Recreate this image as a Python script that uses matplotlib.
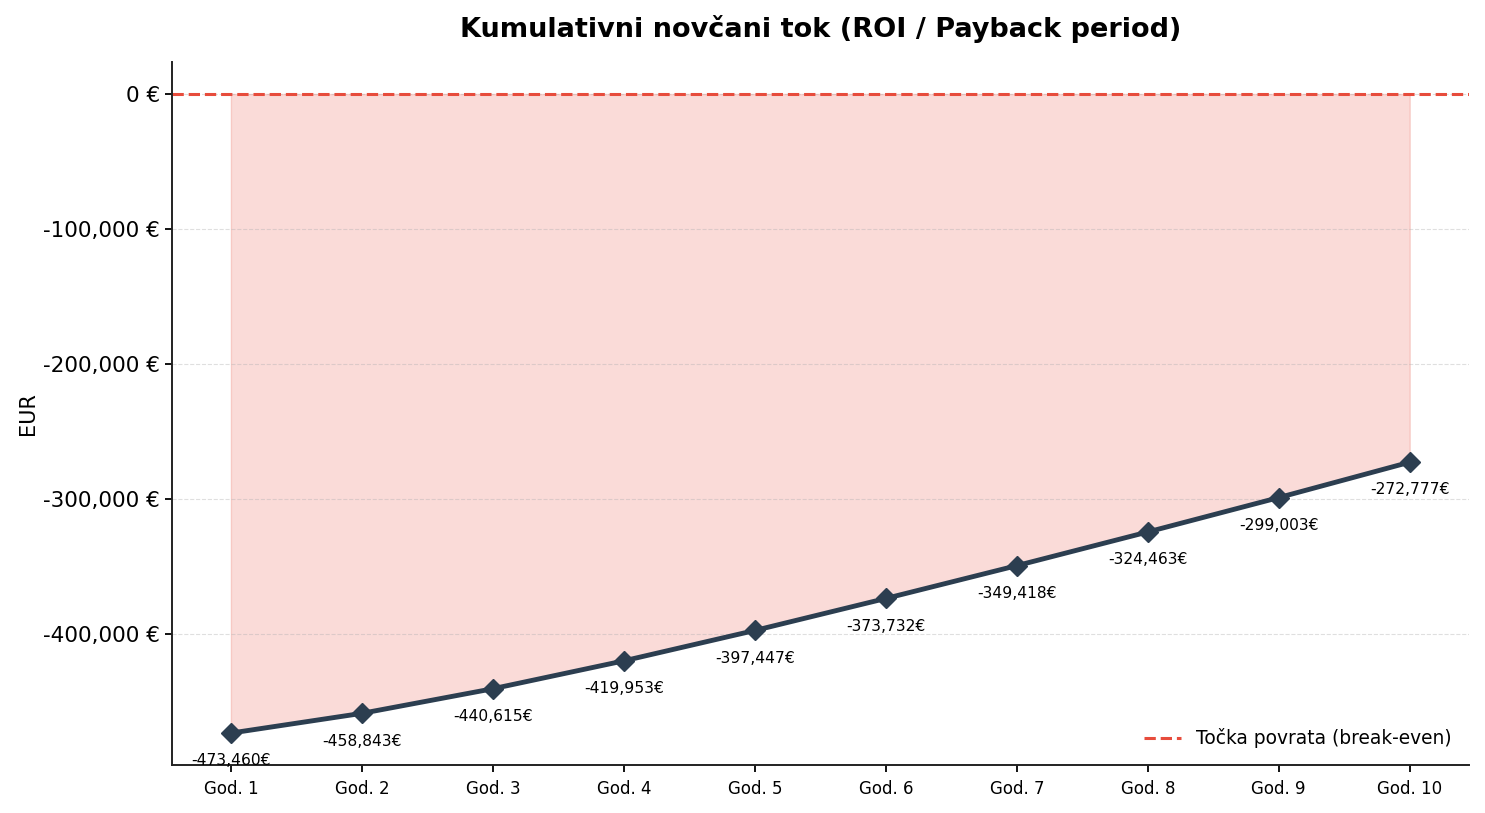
import matplotlib
matplotlib.use("Agg")
import matplotlib.pyplot as plt
from matplotlib.ticker import FuncFormatter

# cumulative cash flow per year (EUR)
years = ["God. 1", "God. 2", "God. 3", "God. 4", "God. 5",
         "God. 6", "God. 7", "God. 8", "God. 9", "God. 10"]
cumulative = [-473460, -458843, -440615, -419953, -397447,
              -373732, -349418, -324463, -299003, -272777]

x = list(range(len(years)))

fig, ax = plt.subplots(figsize=(14.85, 8.13), dpi=100)
fig.subplots_adjust(left=0.1158, right=0.989, top=0.9237, bottom=0.059)

ax.fill_between(x, cumulative, 0, color="#e74c3c", alpha=0.2)
ax.plot(x, cumulative, color="#2c3e50", linewidth=3.5, marker="D", markersize=10.5)
ax.axhline(0, color="#e74c3c", linestyle="--", linewidth=2.2,
           label="Točka povrata (break-even)")

for xi, val in zip(x, cumulative):
    ax.annotate(f"{val:,.0f}€", (xi, val), textcoords="offset points",
                xytext=(0, -20), ha="center", va="center", fontsize=11.2)

ax.set_xticks(x)
ax.set_xticklabels(years, fontsize=12)
ax.tick_params(axis="x", pad=5.5)
ax.tick_params(axis="y", labelsize=15.5)
ax.tick_params(length=5, width=1.3)
ax.yaxis.set_major_formatter(FuncFormatter(lambda v, p: f"{v:,.0f} €"))
ax.set_ylabel("EUR", fontsize=15)
ax.set_title("Kumulativni novčani tok (ROI / Payback period)",
             fontsize=19.5, fontweight="bold", pad=18)
ax.grid(axis="y", linestyle="--", alpha=0.4)
ax.spines["top"].set_visible(False)
ax.spines["right"].set_visible(False)
for s in ("left", "bottom"):
    ax.spines[s].set_linewidth(1.4)
    ax.spines[s].set_color("#222222")
ax.legend(loc="lower right", frameon=False, fontsize=13.4)

fig.savefig("out.png")
